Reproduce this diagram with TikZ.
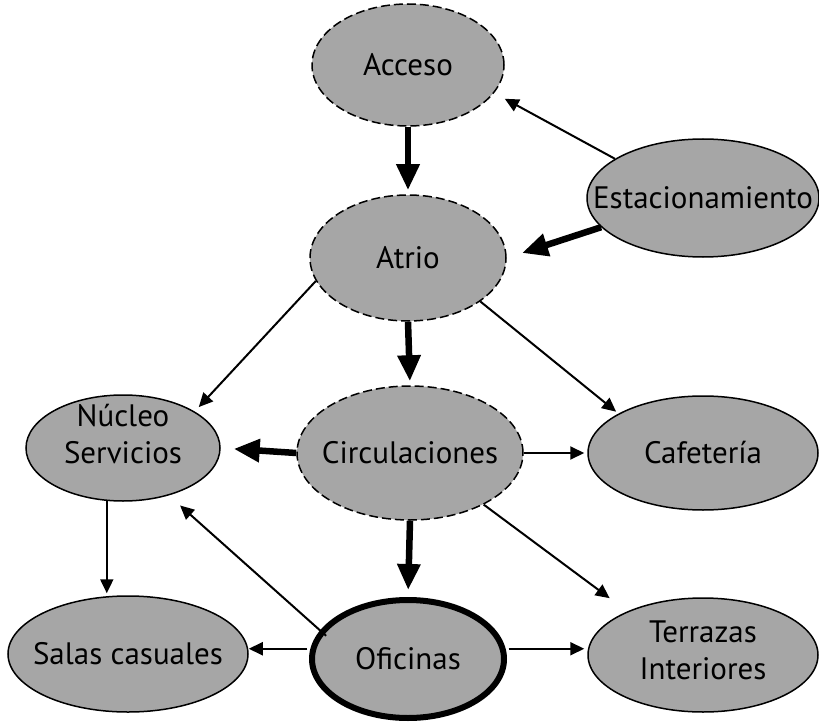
\documentclass[tikz,border=0pt]{standalone}
\usepackage{fontspec}
\setmainfont{PT Sans}
\usetikzlibrary{shapes.geometric,arrows.meta}
\definecolor{nodefill}{RGB}{166,166,166}
\tikzset{
  txt/.style={font=\fontsize{31}{37}\selectfont, align=center, inner sep=0pt},
  bub/.style={ellipse, draw=black, fill=nodefill, line width=1.5pt, inner sep=0pt},
  dashbub/.style={bub, dash pattern=on 9pt off 4pt},
  boldbub/.style={bub, line width=6pt},
  thinarrow/.style={line width=2pt, -{Triangle[length=14pt,width=13pt]}},
  thickarrow/.style={line width=6.5pt, -{Triangle[length=26pt,width=22pt]}},
}
\begin{document}
\begin{tikzpicture}[x=1pt,y=-1pt]
\useasboundingbox (0,0) rectangle (819,722);

\node[dashbub, minimum width=192pt, minimum height=122pt] (acc) at (408,65) {};
\node[txt] (acctxt) at (acc) {Acceso};
\node[bub, minimum width=232pt, minimum height=118pt] (est) at (703,198) {};
\node[txt] (esttxt) at (est) {Estacionamiento};
\node[dashbub, minimum width=196pt, minimum height=126pt] (atr) at (408,258) {};
\node[txt] (atrtxt) at (atr) {Atrio};
\node[bub, minimum width=194pt, minimum height=106pt] (nuc) at (123,448) {};
\node[txt] (nuctxt) at (123,434) {Núcleo\\Servicios};
\node[dashbub, minimum width=226pt, minimum height=134pt] (cir) at (410,453) {};
\node[txt] (cirtxt) at (cir) {Circulaciones};
\node[bub, minimum width=230pt, minimum height=114pt] (caf) at (703,453) {};
\node[txt] (caftxt) at (caf) {Cafetería};
\node[bub, minimum width=240pt, minimum height=116pt] (sal) at (128,654) {};
\node[txt] (saltxt) at (sal) {Salas casuales};
\node[boldbub, minimum width=192pt, minimum height=118pt] (ofi) at (408,659) {};
\node[txt] (ofitxt) at (ofi) {Oficinas};
\node[bub, minimum width=230pt, minimum height=114pt] (ter) at (703,655) {};
\node[txt] (tertxt) at (703,650) {Terrazas\\Interiores};

\draw[thickarrow, shorten >=4pt] (acc.south) -- (atr.north);
\draw[thinarrow, shorten >=12pt] (est.156) -- (acc.-18);
\draw[thickarrow, shorten >=16pt] (est.196) -- (atr.0);
\draw[thinarrow, shorten >=6pt] (atr.194) -- (nuc.27);
\draw[thickarrow, shorten >=4pt] (atr.south) -- (cir.north);
\draw[thinarrow, shorten >=3pt] (atr.-31) -- (caf.155);
\draw[thickarrow, shorten >=13pt] (cir.west) -- (nuc.east);
\draw[thinarrow, shorten >=3pt] (cir.east) -- (caf.west);
\draw[thickarrow, shorten >=7pt] (cir.south) -- (ofi.north);
\draw[thinarrow, shorten >=22pt] (cir.-35) -- (ter.150);
\draw[thinarrow, shorten >=2pt] (nuc.253) -- (nuc.253 |- sal.north);
\draw[thinarrow, shorten <=-8pt, shorten >=15pt] (ofi.162) -- (nuc.-46);
\draw[thinarrow, shorten <=3pt] (ofi.174) -- (ofi.174 -| sal.east);
\draw[thinarrow, shorten <=3pt, shorten >=3pt] (ofi.6) -- (ofi.6 -| ter.west);
\end{tikzpicture}
\end{document}
